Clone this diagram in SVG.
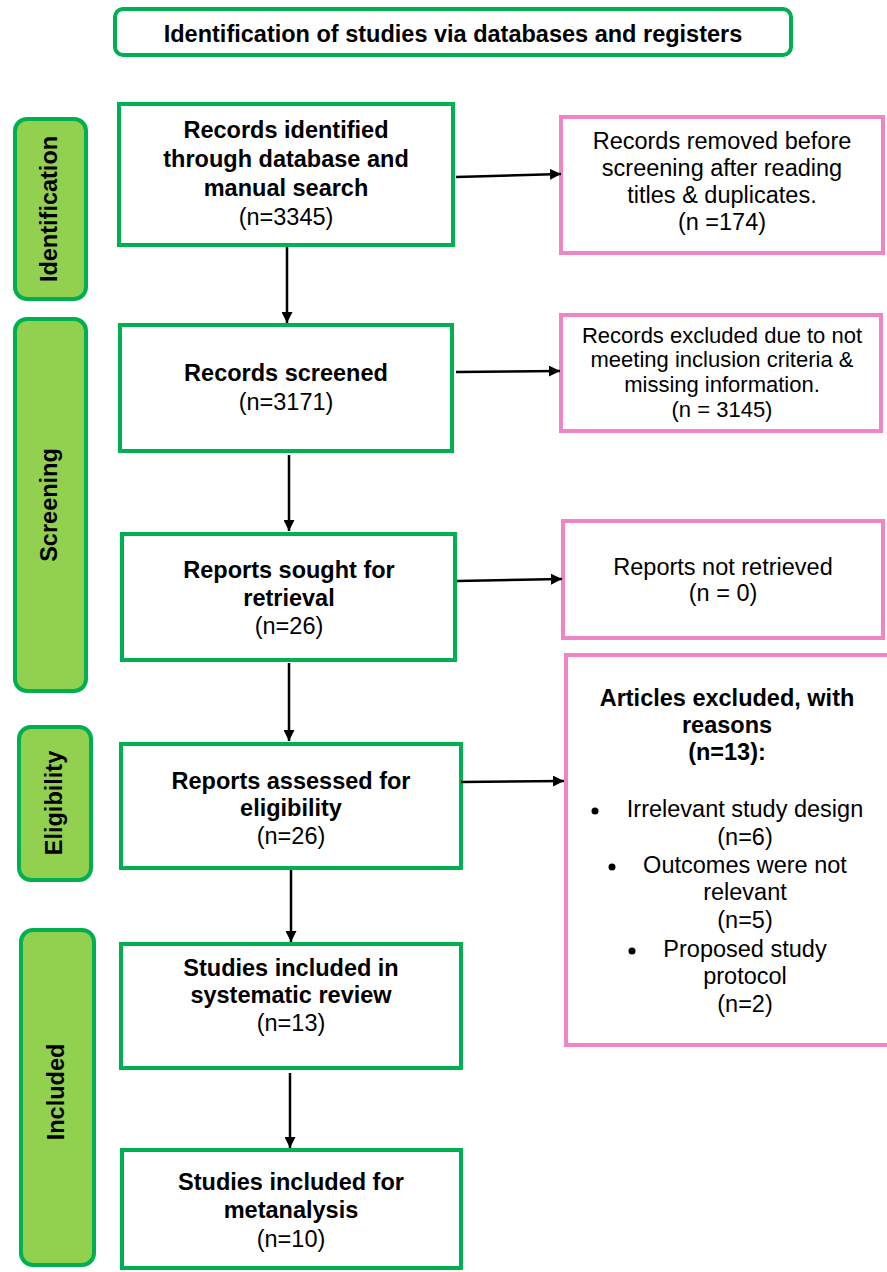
<svg xmlns="http://www.w3.org/2000/svg" width="887" height="1272" viewBox="0 0 887 1272">
<defs>
<style>
.g{fill:#fff;stroke:#00B050;stroke-width:4}
.p{fill:#fff;stroke:#EF85C4;stroke-width:4}
.s{fill:#92D050;stroke:#00B050;stroke-width:4}
text{font-family:"Liberation Sans",Arial,sans-serif;fill:#000;text-anchor:middle}
.b{font-weight:bold;font-size:23.5px}
.r{font-size:23.5px}
.r2{font-size:22px}
.c{stroke:#000;stroke-width:2.5;fill:none;marker-end:url(#ah)}
</style>
<marker id="ah" viewBox="0 0 10 10" refX="10" refY="5" markerWidth="4.4" markerHeight="4.4" markerUnits="strokeWidth" orient="auto"><path d="M0,0L10,5L0,10z" fill="#000"/></marker>
</defs>
<g id="title"><rect class="g" x="115" y="9" width="676" height="46" rx="8"/><text class="b" x="453" y="42">Identification of studies via databases and registers</text></g>
<g id="phase-identification"><rect class="s" x="15" y="119" width="71" height="180" rx="12"/><text class="b" transform="translate(57,209) rotate(-90)">Identification</text></g>
<g id="phase-screening"><rect class="s" x="15" y="319" width="71" height="372" rx="12"/><text class="b" transform="translate(57,505) rotate(-90)">Screening</text></g>
<g id="phase-eligibility"><rect class="s" x="19" y="727" width="72" height="153" rx="12"/><text class="b" transform="translate(62,803) rotate(-90)">Eligibility</text></g>
<g id="phase-included"><rect class="s" x="21" y="930" width="73" height="335" rx="12"/><text class="b" transform="translate(64,1092) rotate(-90)">Included</text></g>
<g id="n1"><rect class="g" x="119" y="104" width="334" height="141"/><text class="b" x="286" y="138">Records identified</text><text class="b" x="286" y="167">through database and</text><text class="b" x="286" y="196">manual search</text><text class="r" x="286" y="225">(n=3345)</text></g>
<g id="n2"><rect class="g" x="120" y="325" width="332" height="126"/><text class="b" x="286" y="381">Records screened</text><text class="r" x="286" y="410">(n=3171)</text></g>
<g id="n3"><rect class="g" x="122" y="534" width="333" height="126"/><text class="b" x="289" y="578">Reports sought for</text><text class="b" x="289" y="606">retrieval</text><text class="r" x="289" y="634">(n=26)</text></g>
<g id="n4"><rect class="g" x="121" y="744" width="340" height="124"/><text class="b" x="291" y="789">Reports assessed for</text><text class="b" x="291" y="816">eligibility</text><text class="r" x="291" y="844">(n=26)</text></g>
<g id="n5"><rect class="g" x="121" y="944" width="340" height="124"/><text class="b" x="291" y="976">Studies included in</text><text class="b" x="291" y="1003">systematic review</text><text class="r" x="291" y="1031">(n=13)</text></g>
<g id="n6"><rect class="g" x="122" y="1150" width="339" height="118"/><text class="b" x="291" y="1190">Studies included for</text><text class="b" x="291" y="1218">metanalysis</text><text class="r" x="291" y="1247">(n=10)</text></g>
<g id="x1"><rect class="p" x="561" y="117" width="322" height="136"/><text class="r" x="722" y="149">Records removed before</text><text class="r" x="722" y="176">screening after reading</text><text class="r" x="722" y="203">titles &amp; duplicates.</text><text class="r" x="722" y="230">(n =174)</text></g>
<g id="x2"><rect class="p" x="561" y="315" width="320" height="116"/><text class="r2" x="722" y="343">Records excluded due to not</text><text class="r2" x="722" y="367">meeting inclusion criteria &amp;</text><text class="r2" x="722" y="392">missing information.</text><text class="r2" x="722" y="417">(n = 3145)</text></g>
<g id="x3"><rect class="p" x="563" y="521" width="320" height="117"/><text class="r" x="723" y="575">Reports not retrieved</text><text class="r" x="723" y="601">(n = 0)</text></g>
<g id="x4"><rect class="p" x="566" y="655" width="330" height="390"/><text class="b" x="727" y="706">Articles excluded, with</text><text class="b" x="727" y="733">reasons</text><text class="b" x="727" y="760">(n=13):</text>
<circle cx="595" cy="811" r="3.5"/><text class="r" x="745" y="817">Irrelevant study design</text><text class="r" x="745" y="845">(n=6)</text>
<circle cx="612" cy="867" r="3.5"/><text class="r" x="745" y="873">Outcomes were not</text><text class="r" x="745" y="900">relevant</text><text class="r" x="745" y="928">(n=5)</text>
<circle cx="632" cy="951" r="3.5"/><text class="r" x="745" y="957">Proposed study</text><text class="r" x="745" y="984">protocol</text><text class="r" x="745" y="1012">(n=2)</text></g>
<g id="connectors">
<line class="c" x1="287" y1="247" x2="287" y2="323"/>
<line class="c" x1="289" y1="455" x2="289" y2="531"/>
<line class="c" x1="289" y1="663" x2="289" y2="741"/>
<line class="c" x1="291" y1="870" x2="291" y2="942"/>
<line class="c" x1="290" y1="1073" x2="290" y2="1148"/>
<line class="c" x1="456" y1="177" x2="561" y2="174"/>
<line class="c" x1="456" y1="372" x2="560" y2="371"/>
<line class="c" x1="457" y1="581" x2="562" y2="579"/>
<line class="c" x1="461" y1="782" x2="564" y2="781"/>
</g>
</svg>
